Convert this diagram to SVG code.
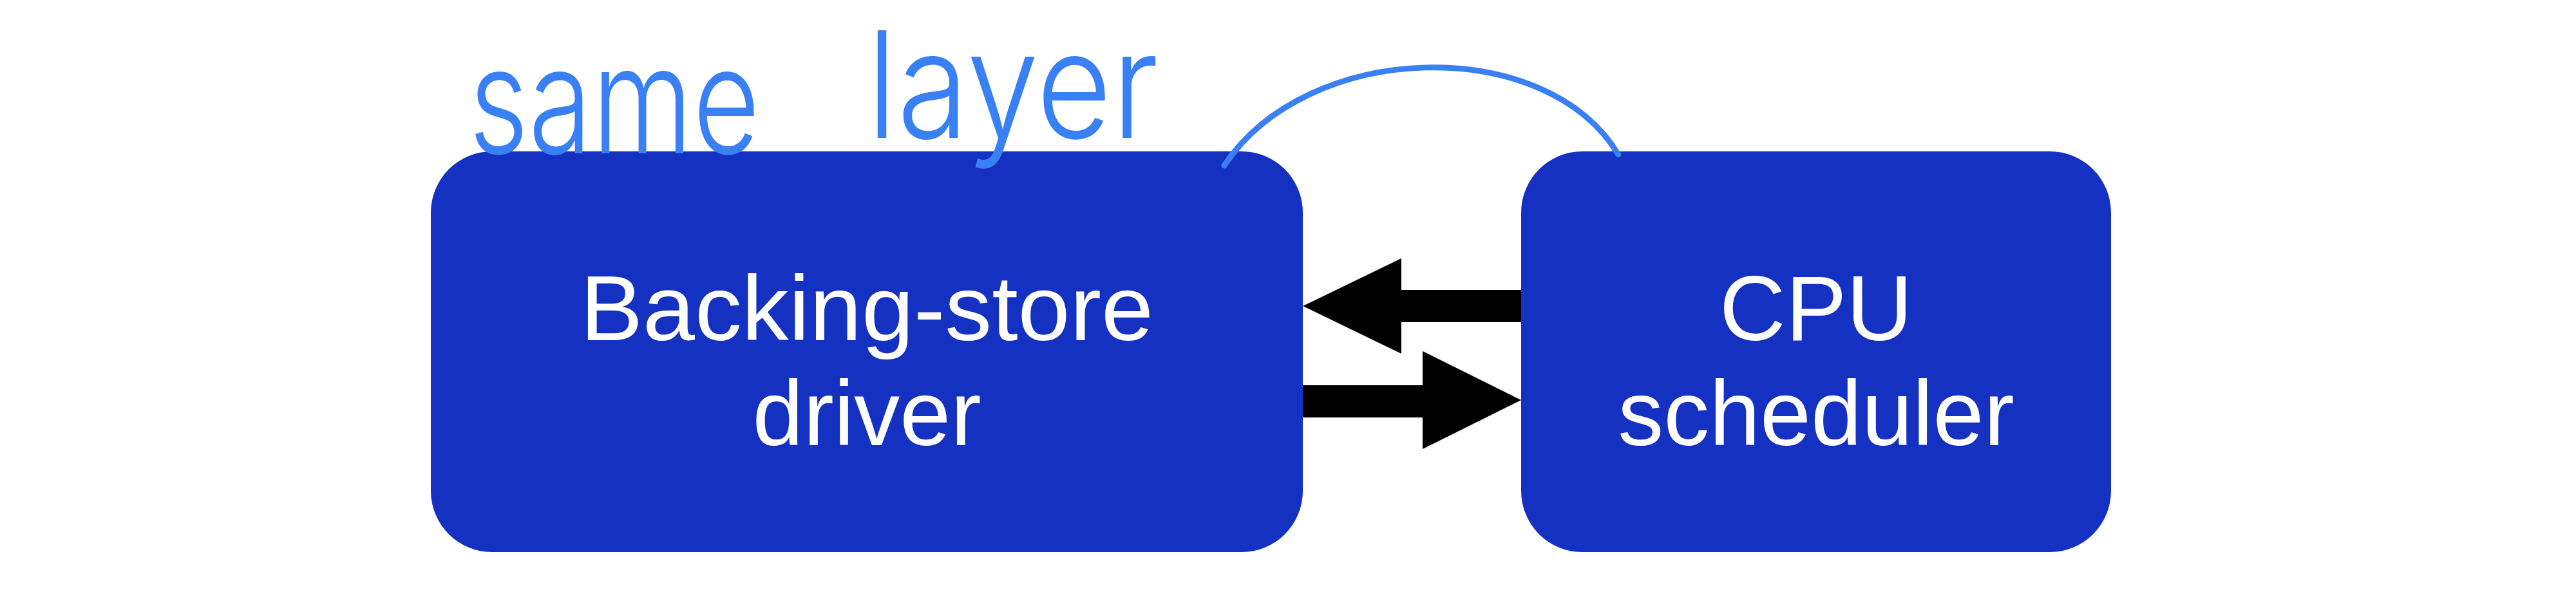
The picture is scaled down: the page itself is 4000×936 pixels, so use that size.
<svg xmlns="http://www.w3.org/2000/svg" width="4000" height="936" viewBox="0 0 4000 936">
<style>
.box{fill:#1431c2}
.lbl{font-family:"Liberation Sans",Arial,sans-serif;font-size:142px;fill:#ffffff;text-anchor:middle}
.arrow{fill:#000000}
.hand{font-family:Inter,"DejaVu Sans",sans-serif;font-weight:300;font-size:230px;fill:#3a80f5}
.arc{fill:none;stroke:#3a80f5;stroke-width:9;stroke-linecap:round}
</style>
<rect width="4000" height="936" fill="#ffffff"/>
<g id="backing-store-driver">
<rect class="box" x="669" y="235" width="1354" height="622" rx="95" ry="95"/>
<text class="lbl" x="1346" y="528" textLength="890" lengthAdjust="spacingAndGlyphs">Backing-store</text>
<text class="lbl" x="1346" y="691">driver</text>
</g>
<g id="cpu-scheduler">
<rect class="box" x="2362" y="235" width="916" height="622" rx="95" ry="95"/>
<text class="lbl" x="2820" y="528">CPU</text>
<text class="lbl" x="2820" y="691">scheduler</text>
</g>
<g id="connectors">
<polygon class="arrow" points="2362,450 2176,450 2176,401 2023,475 2176,549 2176,500 2362,500"/>
<polygon class="arrow" points="2023,598 2209,598 2209,545 2362,621 2209,697 2209,648 2023,648"/>
<path class="arc" d="M1901 257 C2030 62 2400 52 2513 240"/>
</g>
<g id="annotation">
<text class="hand"><tspan x="728" y="238" textLength="452" lengthAdjust="spacingAndGlyphs">same</tspan><tspan x="1346" y="214" textLength="453" lengthAdjust="spacingAndGlyphs">layer</tspan></text>
</g>
</svg>
